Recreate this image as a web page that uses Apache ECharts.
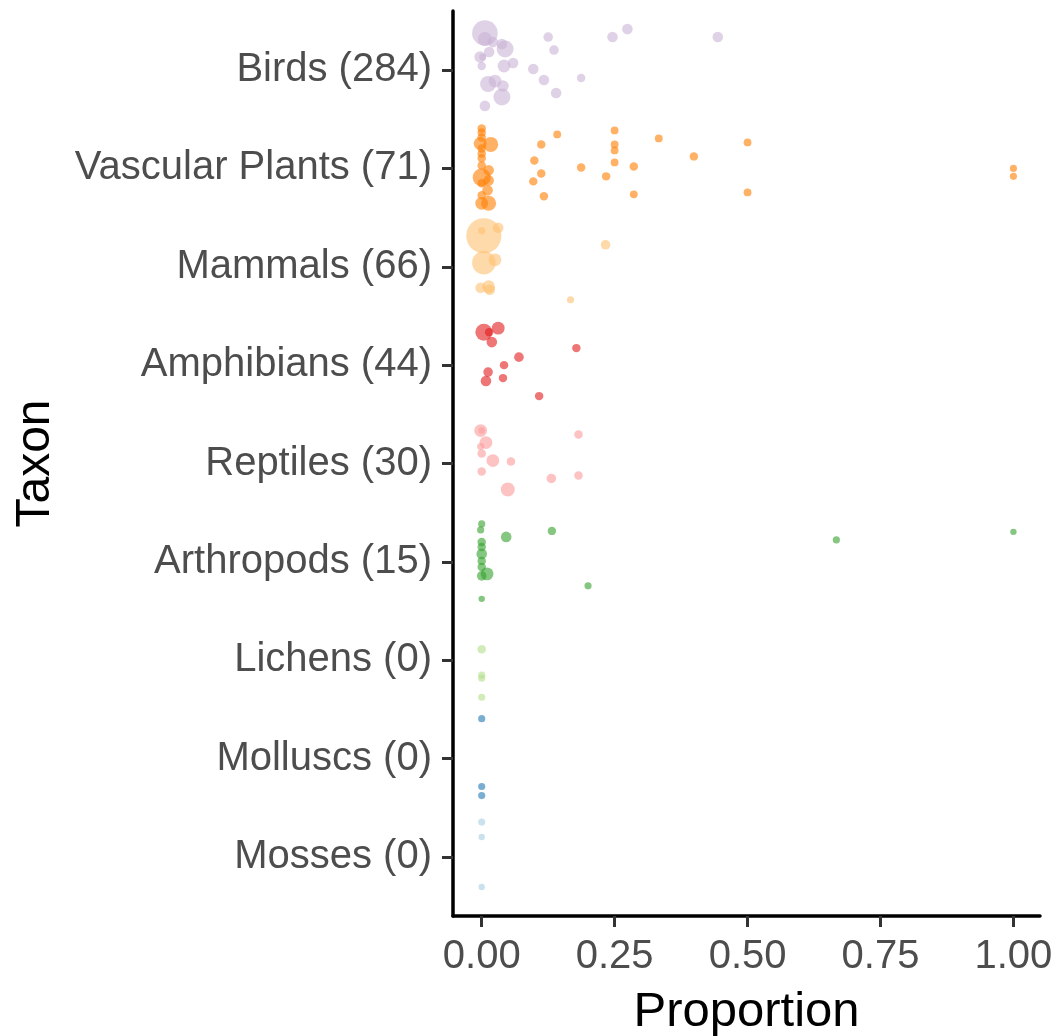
<!DOCTYPE html>
<html>
<head>
<meta charset="utf-8">
<script src="https://cdn.jsdelivr.net/npm/echarts@6/dist/echarts.min.js"></script>
<style>html,body{margin:0;padding:0;background:#fff;}#c{width:1055px;height:1036px;}</style>
</head>
<body>
<div id="c"></div>
<script>
// Category labels (top to bottom)
var taxa = ['Birds (284)', 'Vascular Plants (71)', 'Mammals (66)', 'Amphibians (44)', 'Reptiles (30)', 'Arthropods (15)', 'Lichens (0)', 'Molluscs (0)', 'Mosses (0)'];
var xTicks = [0, 0.25, 0.5, 0.75, 1];

// Each point: [proportion, vertical jitter within the category, n]
var birds = [[0.006,-0.376,64],[0.006,-0.315,19],[0.021,-0.284,11],[0.038,-0.264,11],[0.044,-0.213,28],[0.125,-0.335,9],[0.136,-0.203,9],[0.246,-0.335,11],[0.274,-0.416,11],[0.444,-0.335,11],[0.014,-0.183,11],[-0.003,-0.132,13],[0.002,-0.132,5],[0.000,-0.041,7],[0.042,-0.041,16],[0.059,-0.071,11],[0.097,-0.010,11],[0.117,0.102,11],[0.187,0.081,7],[0.012,0.142,25],[0.025,0.112,16],[0.040,0.162,13],[0.038,0.274,28],[0.140,0.234,11],[0.006,0.365,11]];
var vascularPlants = [[0,-0.406,7],[0,-0.365,7],[0,-0.315,7],[-0.003,-0.254,16],[0.017,-0.244,22],[0,-0.203,7],[0,-0.152,7],[0,-0.102,7],[0,-0.030,7],[0.013,0.020,11],[0,0.091,32],[0.013,0.122,11],[0,0.152,7],[0.011,0.223,11],[0,0.274,7],[0,0.355,16],[0.013,0.355,22],[0.142,-0.345,6],[0.112,-0.244,7],[0.250,-0.386,6],[0.250,-0.244,6],[0.250,-0.183,6],[0.250,-0.061,6],[0.333,-0.305,6],[0.500,-0.264,6],[0.099,-0.081,7],[0.187,-0.010,7],[0.286,-0.020,7],[0.399,-0.122,7],[0.112,0.051,7],[0.234,0.081,7],[0.097,0.132,7],[0.117,0.284,7],[0.286,0.264,6],[0.500,0.244,6],[1.000,0.000,5],[1.000,0.081,5]];
var mammals = [[0.004,-0.315,121],[0.000,-0.365,5],[0.031,-0.396,11],[0.004,-0.041,54],[0.025,-0.071,16],[-0.002,0.213,11],[0.013,0.203,16],[0.015,0.234,11],[0.233,-0.223,9],[0.167,0.335,5]];
var amphibians = [[0.004,-0.335,28],[0.014,-0.335,7],[0.031,-0.376,16],[0.019,-0.234,11],[0.070,-0.081,9],[0.178,-0.173,7],[0.042,0.000,7],[0.012,0.071,9],[0.008,0.162,11],[0.040,0.132,7],[0.108,0.315,7]];
var reptiles = [[-0.002,-0.335,16],[0.000,-0.335,4],[0.008,-0.213,16],[-0.002,-0.173,5],[0.000,-0.102,7],[0.021,-0.030,16],[0.055,-0.020,7],[0.182,-0.294,7],[0.000,0.081,7],[0.131,0.152,9],[0.182,0.122,7],[0.049,0.264,19]];
var arthropods = [[0.000,-0.386,5],[-0.002,-0.325,5],[0.046,-0.254,11],[0.132,-0.315,7],[0,-0.203,7],[0,-0.152,7],[0,-0.081,11],[0,-0.010,7],[0,0.051,7],[0.010,0.122,16],[0,0.142,9],[0.200,0.244,5],[0,0.376,4],[0.667,-0.223,5],[1.000,-0.305,4]];
var lichens = [[0,-0.112,7],[0,0.152,5],[0,0.183,5],[0,0.376,5]];
var molluscs = [[0,-0.406,5],[0,0.284,5],[0,0.376,5]];
var mosses = [[0,-0.355,5],[0,-0.203,4],[0,0.305,4]];

var groups = [birds, vascularPlants, mammals, amphibians, reptiles, arthropods, lichens, molluscs, mosses];
var colors = ['#cab2d6', '#ff7f00', '#fdbf6f', '#e31a1c', '#fb9a99', '#33a02c', '#b2df8a', '#1f78b4', '#a6cee3'];

var series = groups.map(function (g, i) {
  return {
    type: 'scatter',
    name: taxa[i],
    data: g.map(function (p) { return [p[0], i + p[1], p[2]]; }),
    symbolSize: function (v) { return 3.2 * Math.sqrt(v[2]); },
    itemStyle: { color: colors[i], opacity: 0.6 },
    emphasis: { disabled: true }
  };
});

var chart = echarts.init(document.getElementById('c'), null, { renderer: 'canvas' });
var FONT = '"Liberation Sans", Arial, sans-serif';
chart.setOption({
  backgroundColor: '#fff',
  animation: false,
  grid: { left: 453, right: 15, top: 11, bottom: 120, containLabel: false, outerBoundsMode: 'none' },
  xAxis: {
    type: 'value',
    min: -0.054,
    max: 1.05,
    name: 'Proportion',
    nameLocation: 'middle',
    nameGap: 72,
    nameTextStyle: { fontSize: 49, color: '#000', fontFamily: FONT },
    splitLine: { show: false },
    axisLine: { show: true, onZero: false, lineStyle: { color: '#000', width: 3.5 } },
    axisTick: { show: true, customValues: xTicks, length: 11, lineStyle: { color: '#333', width: 3 } },
    axisLabel: { customValues: xTicks, fontSize: 40, color: '#4d4d4d', fontFamily: FONT, margin: 21,
      formatter: function (v) { return v.toFixed(2); } }
  },
  yAxis: {
    type: 'value',
    inverse: true,
    min: -0.6,
    max: 8.6,
    name: 'Taxon',
    nameLocation: 'middle',
    nameGap: 393,
    nameRotate: 90,
    nameTextStyle: { fontSize: 48, color: '#000', fontFamily: FONT },
    splitLine: { show: false },
    axisLine: { show: true, onZero: false, lineStyle: { color: '#000', width: 3.5 } },
    axisTick: { show: true, customValues: [0,1,2,3,4,5,6,7,8], length: 11, lineStyle: { color: '#333', width: 3 } },
    axisLabel: { customValues: [0,1,2,3,4,5,6,7,8], fontSize: 40, color: '#4d4d4d', fontFamily: FONT, margin: 21,
      formatter: function (v) { return taxa[Math.round(v)]; } }
  },
  series: series
});
</script>
</body>
</html>
